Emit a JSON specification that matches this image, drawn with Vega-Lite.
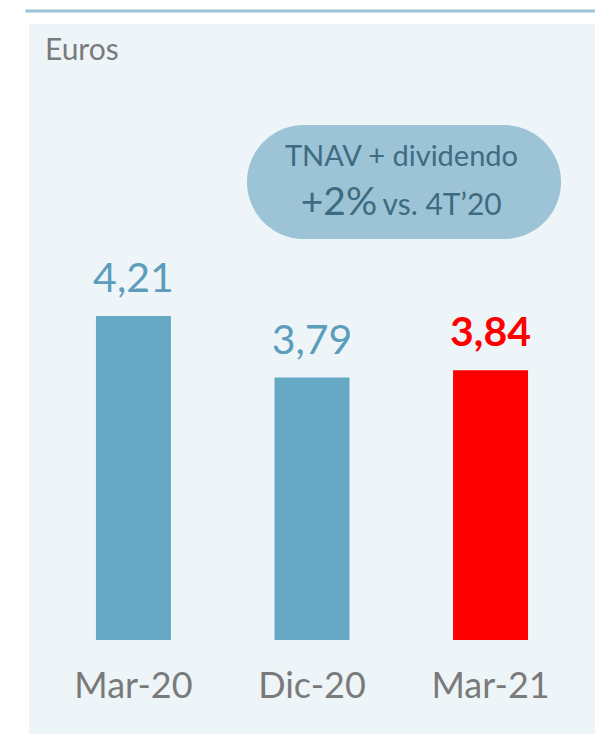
{
  "$schema": "https://vega.github.io/schema/vega-lite/v6.json",
  "width": 566,
  "height": 710,
  "autosize": "none",
  "padding": {"left": 29, "top": 24, "right": 0, "bottom": 0},
  "background": "#ffffff",
  "config": {
    "view": {"fill": "#eef5f8", "stroke": null},
    "font": "Lato",
    "locale": {"number": {"decimal": ",", "thousands": ".", "grouping": [3], "currency": ["", " €"]}}
  },
  "data": {
    "values": [
      {"period": "Mar-20", "value": 4.21, "tipo": "previo"},
      {"period": "Dic-20", "value": 3.79, "tipo": "previo"},
      {"period": "Mar-21", "value": 3.84, "tipo": "actual"}
    ]
  },
  "layer": [
    {
      "data": {"values": [{"line": "top"}]},
      "mark": {"type": "rule", "color": "#9dc4d6", "strokeWidth": 3, "clip": false},
      "encoding": {
        "x": {"datum": "Mar-20", "bandPosition": -0.94, "axis": null},
        "x2": {"datum": "Mar-21", "bandPosition": 2.0},
        "y": {"datum": 6.29, "type": "quantitative", "scale": {"domain": [1.359, 6.202], "nice": false, "zero": false}, "axis": null}
      }
    },
    {
      "data": {"values": [{"unit": "Euros"}]},
      "mark": {"type": "text", "align": "left", "baseline": "alphabetic", "fontSize": 30, "color": "#7b7b7b"},
      "encoding": {
        "x": {"datum": "Mar-20", "bandPosition": -0.68, "axis": null},
        "y": {"datum": 5.956, "type": "quantitative", "axis": null},
        "text": {"field": "unit"}
      }
    },
    {
      "mark": {"type": "bar"},
      "encoding": {
        "x": {
          "field": "period",
          "type": "nominal",
          "scale": {"domain": ["Mar-20", "Dic-20", "Mar-21"], "paddingInner": 0.58, "paddingOuter": 0.375},
          "axis": null
        },
        "y": {"field": "value", "type": "quantitative", "axis": null},
        "y2": {"datum": 2},
        "color": {
          "field": "tipo",
          "type": "nominal",
          "scale": {"domain": ["previo", "actual"], "range": ["#67a8c5", "#ff0000"]},
          "legend": null
        }
      }
    },
    {
      "transform": [{"filter": "datum.tipo === 'previo'"}],
      "mark": {"type": "text", "align": "center", "baseline": "alphabetic", "dy": -24, "fontSize": 41, "color": "#5b9dbb"},
      "encoding": {
        "x": {"field": "period", "type": "nominal", "axis": null},
        "y": {"field": "value", "type": "quantitative", "axis": null},
        "text": {"field": "value", "type": "quantitative", "format": ".2f"}
      }
    },
    {
      "transform": [{"filter": "datum.tipo === 'actual'"}],
      "mark": {"type": "text", "align": "center", "baseline": "alphabetic", "dy": -24, "fontSize": 41, "fontWeight": "bold", "color": "#ff0000"},
      "encoding": {
        "x": {"field": "period", "type": "nominal", "axis": null},
        "y": {"field": "value", "type": "quantitative", "axis": null},
        "text": {"field": "value", "type": "quantitative", "format": ".2f"}
      }
    },
    {
      "mark": {"type": "text", "align": "center", "baseline": "alphabetic", "fontSize": 36, "color": "#7a7a7a"},
      "encoding": {
        "x": {"field": "period", "type": "nominal", "axis": null},
        "y": {"datum": 1.602, "type": "quantitative", "axis": null},
        "text": {"field": "period"}
      }
    },
    {
      "data": {"values": [{"note": "bubble"}]},
      "mark": {"type": "rect", "color": "#9dc4d6", "cornerRadius": 57},
      "encoding": {
        "x": {"datum": "Dic-20", "bandPosition": -0.367, "axis": null},
        "x2": {"datum": "Mar-21", "bandPosition": 1.44},
        "y": {"datum": 5.513, "type": "quantitative", "axis": null},
        "y2": {"datum": 4.735}
      }
    },
    {
      "data": {"values": [{"t": "TNAV + dividendo"}]},
      "mark": {"type": "text", "align": "center", "baseline": "alphabetic", "fontSize": 29, "color": "#3d6c82"},
      "encoding": {
        "x": {"datum": "Dic-20", "bandPosition": 1.693, "axis": null},
        "y": {"datum": 5.235, "type": "quantitative", "axis": null},
        "text": {"field": "t"}
      }
    },
    {
      "data": {"values": [{"t": "+2%"}]},
      "mark": {"type": "text", "align": "right", "baseline": "alphabetic", "fontSize": 39, "color": "#3d6c82"},
      "encoding": {
        "x": {"datum": "Dic-20", "bandPosition": 1.37, "axis": null},
        "y": {"datum": 4.899, "type": "quantitative", "axis": null},
        "text": {"field": "t"}
      }
    },
    {
      "data": {"values": [{"t": "vs. 4T’20"}]},
      "mark": {"type": "text", "align": "left", "baseline": "alphabetic", "fontSize": 30, "color": "#3d6c82"},
      "encoding": {
        "x": {"datum": "Dic-20", "bandPosition": 1.44, "axis": null},
        "y": {"datum": 4.899, "type": "quantitative", "axis": null},
        "text": {"field": "t"}
      }
    }
  ]
}
